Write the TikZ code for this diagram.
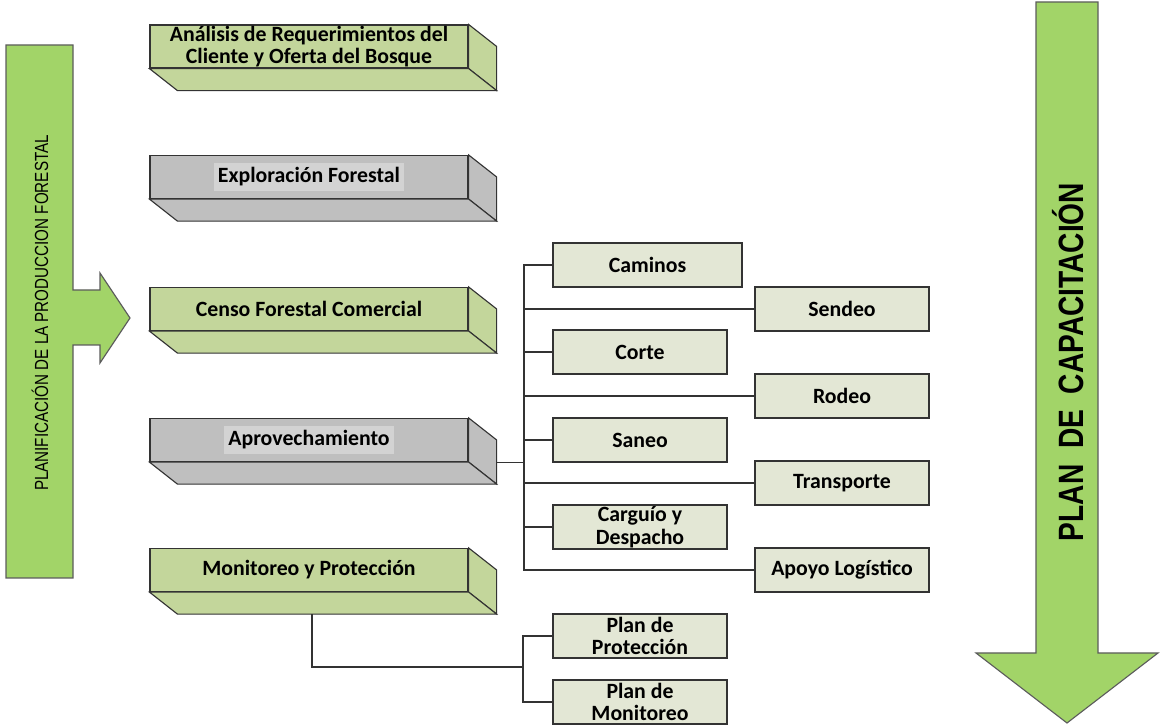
\documentclass[tikz,border=0pt]{standalone}
\usepackage{fontspec}
\setmainfont{Carlito}
\newfontfamily\arial{Liberation Sans}
\usepackage{graphicx}
\usetikzlibrary{calc}
\definecolor{verdecaja}{HTML}{C3D69B}
\definecolor{griscaja}{HTML}{BFBFBF}
\definecolor{grisclaro}{HTML}{D3D3D3}
\definecolor{verdegris}{HTML}{E3E7D5}
\definecolor{verdeflecha}{HTML}{A2D468}
\definecolor{borde}{HTML}{333333}
\tikzset{
  caja/.style={draw=borde, line width=0.8pt, minimum width=7.95cm, minimum height=1.075cm,
    inner sep=0pt, align=center, font=\bfseries\fontsize{15.5}{16}\selectfont},
  cajita/.style={draw=borde, line width=0.8pt, fill=verdegris, minimum width=4.35cm,
    minimum height=1.1cm, inner sep=0pt, align=center, font=\bfseries\fontsize{15.5}{16}\selectfont},
  linea/.style={draw=borde, line width=0.8pt},
  flecha/.style={draw=borde!80, line width=0.8pt, fill=verdeflecha}
}
% caras laterales de las cajas en 3D
\def\profundo#1#2{%
  \draw[linea, fill=#2] (#1.north east) -- ($(#1.north east)+(28,22)$) -- ($(#1.south east)+(28,22)$) -- (#1.south east) -- cycle;
  \draw[linea, fill=#2] (#1.south west) -- (#1.south east) -- ($(#1.south east)+(28,22)$) -- ($(#1.south west)+(28,22)$) -- cycle;}

\begin{document}
\begin{tikzpicture}[x=0.025cm, y=-0.025cm]
	\useasboundingbox (0,0) rectangle (1160,727);
	
	% flechas grandes
	\draw[flecha] (6,45) -- (73,45) -- (73,290) -- (100,290) -- (100,273) -- (130,318) -- (100,363) -- (100,345) -- (73,345) -- (73,578) -- (6,578) -- cycle;
	\node[rotate=90, font=\arial\fontsize{13.5}{14}\selectfont] (planif) at (40,313) {\scalebox{0.8}[1]{PLANIFICACIÓN DE LA PRODUCCION FORESTAL}};
	
	\draw[flecha] (1036,2) -- (1098,2) -- (1098,653) -- (1158,653) -- (1067,723) -- (976,653) -- (1036,653) -- cycle;
	\node[rotate=90, font=\arial\bfseries\fontsize{25}{26}\selectfont] (capac) at (1068,362) {\scalebox{0.8}[1]{PLAN~~DE~~CAPACITACIÓN}};
	
	% etapas
	\node[caja, fill=verdecaja] (analisis) at (309,46.5) {Análisis de Requerimientos del\\Cliente y Oferta del Bosque};
	\profundo{analisis}{verdecaja}
	\node[caja, fill=griscaja] (explor) at (309,177) {\colorbox{grisclaro}{Exploración Forestal}};
	\profundo{explor}{griscaja}
	\node[caja, fill=verdecaja] (censo) at (309,309) {Censo Forestal Comercial};
	\profundo{censo}{verdecaja}
	\node[caja, fill=griscaja] (aprov) at (309,440) {\colorbox{grisclaro}{Aprovechamiento}};
	\profundo{aprov}{griscaja}
	\node[caja, fill=verdecaja] (monit) at (309,570) {Monitoreo y Protección};
	\profundo{monit}{verdecaja}
	
	% actividades del aprovechamiento
	\node[cajita, minimum width=4.725cm] (caminos) at (647.5,265) {Caminos};
	\node[cajita] (sendeo) at (842,309) {Sendeo};
	\node[cajita] (corte) at (640,352) {Corte};
	\node[cajita] (rodeo) at (842,396) {Rodeo};
	\node[cajita] (saneo) at (640,440) {Saneo};
	\node[cajita] (transp) at (842,483) {Transporte};
	\node[cajita] (carguio) at (640,527) {Carguío y\\Despacho};
	\node[cajita] (apoyo) at (842,570) {Apoyo Logístico};
	
	\node[cajita] (protec) at (640,636) {Plan de\\Protección};
	\node[cajita] (pmonit) at (640,702) {Plan de\\Monitoreo};
	
	% conectores
	\coordinate (tronco) at (524,0);
	\draw[linea] (caminos.west) -- (caminos.west -| tronco) -- (apoyo.west -| tronco) -- (apoyo.west);
	\foreach \n in {sendeo,corte,rodeo,saneo,transp,carguio}
		\draw[linea] (\n.west) -- (\n.west -| tronco);
	\draw[linea] ($(aprov.south east)+(28,0)$) -- (tronco |- aprov.south east);
	
	\coordinate (rama) at (523,667);
	\draw[linea] ($(monit.south)+(3,22)$) |- (rama);
	\draw[linea] (protec.west) -| (rama) |- (pmonit.west);
\end{tikzpicture}
\end{document}
